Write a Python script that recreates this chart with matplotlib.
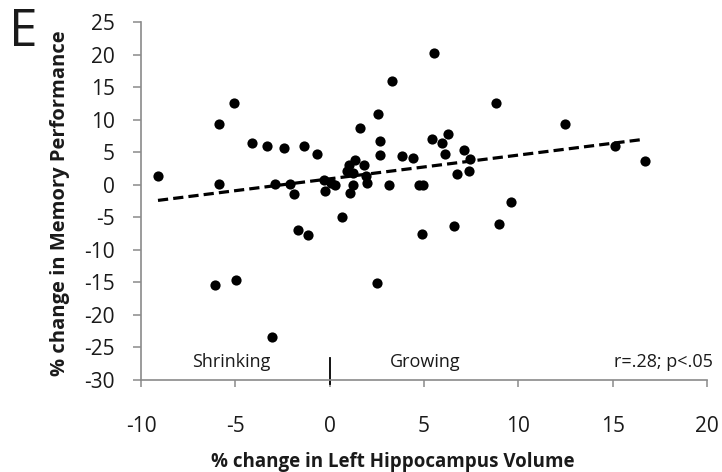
import numpy as np
import matplotlib
matplotlib.use("Agg")
import matplotlib.pyplot as plt

# % change in left hippocampus volume / memory performance
vol_change = [-9.1, -5.85, -5.05, -4.1, -3.3, -2.4, -1.35, -0.65, -5.85, -2.9,
              -2.1, -1.9, -0.3, 0.05, 0.3, -0.25, -1.7, -1.15, 0.65, 3.3,
              5.55, 2.55, 1.6, 2.65, 2.65, 3.85, 4.4, 5.45, 6.25, 5.95,
              6.1, 7.1, 7.45, 6.75, 7.4, 8.8, 9.6, 8.95, 6.6, 4.9,
              4.75, 4.95, 3.15, 1.0, 1.35, 1.8, 0.9, 1.25, 1.9, 1.25,
              2.0, 1.1, 12.45, 15.1, 16.7, -6.1, -4.95, -3.05, 2.5]
mem_change = [1.4, 9.3, 12.6, 6.4, 6.0, 5.6, 6.0, 4.7, 0.1, 0.1,
              0.1, -1.4, 0.8, 0.2, 0.0, -1.0, -7.0, -7.7, -4.9, 16.0,
              20.3, 10.8, 8.7, 6.7, 4.6, 4.35, 4.1, 7.0, 7.8, 6.4,
              4.7, 5.4, 3.9, 1.7, 2.1, 12.6, -2.7, -6.0, -6.3, -7.6,
              0.0, 0.0, 0.0, 3.1, 3.8, 3.1, 2.1, 1.8, 1.3, 0.0,
              0.3, -1.3, 9.3, 6.0, 3.7, -15.4, -14.6, -23.4, -15.1]

xticks = [-10, -5, 0, 5, 10, 15, 20]
yticks = list(range(-30, 30, 5))
stats_text = "r=.28; p<.05"

x = np.array(vol_change)
y = np.array(mem_change)
slope, intercept = np.polyfit(x, y, 1)
xfit = np.array([x.min(), x.max()])

plt.rcParams['font.family'] = ['Open Sans', 'DejaVu Sans']
plt.rcParams['axes.unicode_minus'] = False

fig = plt.figure(figsize=(7.22, 4.72), dpi=100)
ax = fig.add_axes([0.1953, 0.1949, 0.7839, 0.7585])

ax.scatter(x, y, s=54, color='black', zorder=3, linewidths=0)
ax.plot(xfit, slope * xfit + intercept, color='black', lw=2.3,
        dashes=(3.2, 1.6), zorder=2)

ax.set_xlim(-10, 20)
ax.set_ylim(-30, 25)
ax.set_xticks(xticks)
ax.set_yticks(yticks)

for side in ['top', 'right']:
    ax.spines[side].set_visible(False)
for side in ['left', 'bottom']:
    ax.spines[side].set_color('#8a8a8a')
    ax.spines[side].set_linewidth(1.2)
ax.tick_params(axis='y', direction='out', length=5.8, width=1.1, color='#8a8a8a',
               labelsize=15, labelcolor='#1a1a1a', pad=13)
ax.tick_params(axis='x', direction='out', length=5, width=1.1, color='#8a8a8a',
               labelsize=15, labelcolor='#1a1a1a', pad=21)

ax.set_ylabel('% change in Memory Performance', fontsize=14.5, fontweight='bold',
              color='#1a1a1a')
ax.yaxis.set_label_coords(-0.125, 0.495)
ax.set_xlabel('% change in Left Hippocampus Volume', fontsize=13.5,
              fontweight='bold', color='#1a1a1a')
ax.xaxis.set_label_coords(0.445, -0.2)

# divider between shrinking and growing
ax.plot([0, 0], [-26.6, -30.6], color='black', lw=1.3, clip_on=False)
ax.text(-7.3, -27.3, 'Shrinking', fontsize=13, color='#1a1a1a', va='center', ha='left')
ax.text(3.2, -27.3, 'Growing', fontsize=13, color='#1a1a1a', va='center', ha='left')
ax.text(20.3, -27.3, stats_text, fontsize=13, color='#1a1a1a', va='center', ha='right')

fig.text(0.013, 0.985, 'E', fontsize=37, va='top', ha='left', color='#1a1a1a')

fig.savefig('out.png', dpi=100)
